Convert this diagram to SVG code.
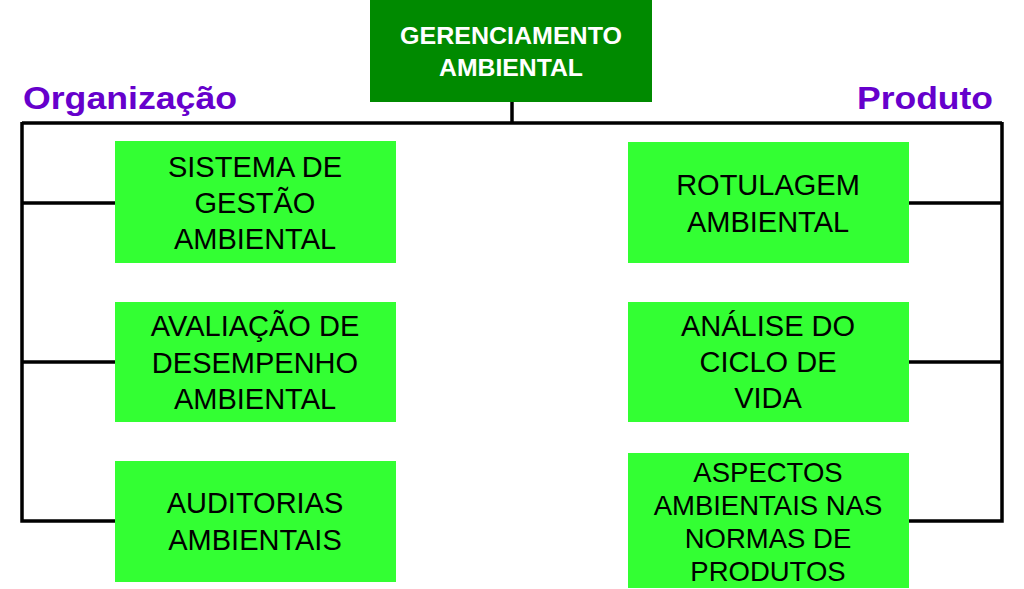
<svg xmlns="http://www.w3.org/2000/svg" width="1024" height="589" viewBox="0 0 1024 589">
<style>
.conn{stroke:#000;stroke-width:3.5;fill:none;stroke-linejoin:miter}
.box{fill:#33ff33}
.t{font-family:"Liberation Sans",Arial,sans-serif;font-size:29px;fill:#000;text-anchor:middle}
.t2{font-family:"Liberation Sans",Arial,sans-serif;font-size:27.5px;fill:#000;text-anchor:middle}
.hd{font-family:"Liberation Sans",Arial,sans-serif;font-size:32px;font-weight:bold;fill:#6600cc}
.top{font-family:"Liberation Sans",Arial,sans-serif;font-size:23px;font-weight:bold;fill:#fff;text-anchor:middle}
</style>
<rect width="1024" height="589" fill="#fff"/>
<g id="connectors">
<path class="conn" d="M512 102 V123"/>
<path class="conn" d="M22 123 H1002"/>
<path class="conn" d="M22 122 V521 H115"/>
<path class="conn" d="M22 203 H115"/>
<path class="conn" d="M22 362 H115"/>
<path class="conn" d="M1002 122 V521 H909"/>
<path class="conn" d="M1002 203 H909"/>
<path class="conn" d="M1002 362 H909"/>
</g>
<g id="root">
<rect x="370" y="0" width="282" height="102" fill="#008a00"/>
<text class="top" x="511" y="44" textLength="222" lengthAdjust="spacingAndGlyphs">GERENCIAMENTO</text>
<text class="top" x="511" y="76" textLength="144" lengthAdjust="spacingAndGlyphs">AMBIENTAL</text>
</g>
<g id="label-organizacao">
<text class="hd" x="23" y="109" textLength="214" lengthAdjust="spacingAndGlyphs">Organização</text>
</g>
<g id="label-produto">
<text class="hd" x="857" y="109" textLength="136" lengthAdjust="spacingAndGlyphs">Produto</text>
</g>
<g id="sga">
<rect class="box" x="115" y="141" width="281" height="122"/>
<text class="t" x="255" y="177">SISTEMA DE</text>
<text class="t" x="255" y="213">GESTÃO</text>
<text class="t" x="255" y="249">AMBIENTAL</text>
</g>
<g id="ada">
<rect class="box" x="115" y="302" width="281" height="120"/>
<text class="t" x="255" y="336">AVALIAÇÃO DE</text>
<text class="t" x="255" y="373">DESEMPENHO</text>
<text class="t" x="255" y="409">AMBIENTAL</text>
</g>
<g id="auditorias">
<rect class="box" x="115" y="461" width="281" height="121"/>
<text class="t" x="255" y="513">AUDITORIAS</text>
<text class="t" x="255" y="550">AMBIENTAIS</text>
</g>
<g id="rotulagem">
<rect class="box" x="628" y="142" width="281" height="121"/>
<text class="t" x="768" y="195">ROTULAGEM</text>
<text class="t" x="768" y="232">AMBIENTAL</text>
</g>
<g id="acv">
<rect class="box" x="628" y="302" width="281" height="120"/>
<text class="t" x="768" y="336">ANÁLISE DO</text>
<text class="t" x="768" y="372">CICLO DE</text>
<text class="t" x="768" y="408">VIDA</text>
</g>
<g id="aspectos">
<rect class="box" x="628" y="453" width="281" height="135"/>
<text class="t2" x="768" y="482">ASPECTOS</text>
<text class="t2" x="768" y="515">AMBIENTAIS NAS</text>
<text class="t2" x="768" y="548">NORMAS DE</text>
<text class="t2" x="768" y="581">PRODUTOS</text>
</g>
</svg>
